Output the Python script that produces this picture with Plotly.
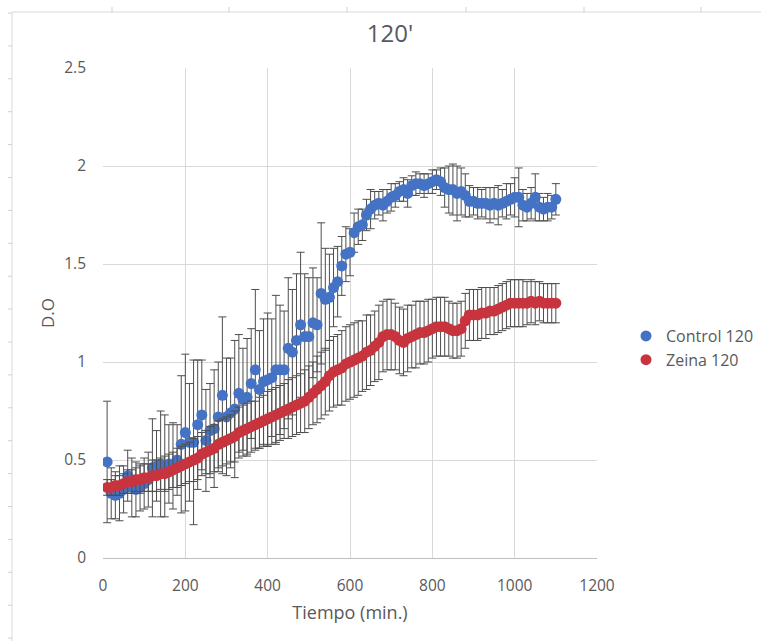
import plotly.graph_objects as go

# ---------------- data ----------------
tiempo = list(range(10, 1110, 10))

control_120 = [
    0.49, 0.33, 0.32, 0.33, 0.35, 0.42, 0.36, 0.35, 0.36, 0.38,
    0.40, 0.46, 0.47, 0.48, 0.47, 0.48, 0.47, 0.50, 0.58, 0.64,
    0.59, 0.59, 0.68, 0.73, 0.60, 0.65, 0.66, 0.72, 0.83, 0.72,
    0.74, 0.76, 0.84, 0.81, 0.82, 0.89, 0.96, 0.86, 0.90, 0.91,
    0.92, 0.96, 0.96, 0.96, 1.07, 1.05, 1.11, 1.19, 1.13, 1.13,
    1.20, 1.19, 1.35, 1.32, 1.33, 1.38, 1.41, 1.49, 1.55, 1.56,
    1.66, 1.69, 1.70, 1.75, 1.78, 1.80, 1.81, 1.80, 1.82, 1.84,
    1.85, 1.87, 1.88, 1.86, 1.90, 1.91, 1.91, 1.90, 1.91, 1.92,
    1.93, 1.92, 1.89, 1.88, 1.88, 1.86, 1.87, 1.85, 1.82, 1.82,
    1.81, 1.81, 1.81, 1.80, 1.81, 1.80, 1.81, 1.82, 1.83, 1.84,
    1.84, 1.80, 1.79, 1.81, 1.84, 1.79, 1.78, 1.79, 1.79, 1.83,
]
control_sd = [
    0.31, 0.13, 0.12, 0.14, 0.12, 0.13, 0.15, 0.14, 0.12, 0.13,
    0.14, 0.25, 0.18, 0.27, 0.26, 0.20, 0.22, 0.18, 0.35, 0.40,
    0.30, 0.42, 0.33, 0.28, 0.26, 0.24, 0.30, 0.28, 0.40, 0.30,
    0.28, 0.35, 0.30, 0.26, 0.30, 0.28, 0.41, 0.30, 0.32, 0.34,
    0.30, 0.38, 0.33, 0.30, 0.36, 0.32, 0.34, 0.37, 0.32, 0.30,
    0.28, 0.24, 0.36, 0.26, 0.22, 0.20, 0.18, 0.15, 0.14, 0.12,
    0.10, 0.09, 0.08, 0.08, 0.10, 0.07, 0.06, 0.08, 0.06, 0.07,
    0.06, 0.05, 0.06, 0.07, 0.05, 0.06, 0.05, 0.06, 0.05, 0.06,
    0.05, 0.07, 0.10, 0.12, 0.13, 0.14, 0.12, 0.11, 0.08, 0.07,
    0.08, 0.07, 0.08, 0.09, 0.08, 0.10, 0.07, 0.09, 0.08, 0.10,
    0.15, 0.08, 0.07, 0.08, 0.12, 0.07, 0.06, 0.07, 0.06, 0.08,
]

zeina_120 = [
    0.36, 0.36, 0.37, 0.37, 0.38, 0.39, 0.39, 0.40, 0.40, 0.41,
    0.41, 0.42, 0.42, 0.43, 0.43, 0.44, 0.45, 0.46, 0.47, 0.48,
    0.49, 0.50, 0.51, 0.53, 0.54, 0.55, 0.56, 0.58, 0.59, 0.60,
    0.61, 0.62, 0.64, 0.65, 0.66, 0.67, 0.68, 0.69, 0.70, 0.71,
    0.72, 0.73, 0.74, 0.75, 0.76, 0.77, 0.78, 0.79, 0.80, 0.82,
    0.84, 0.86, 0.88, 0.90, 0.93, 0.95, 0.96, 0.97, 0.99, 1.00,
    1.01, 1.02, 1.03, 1.05, 1.06, 1.08, 1.10, 1.13, 1.14, 1.14,
    1.13, 1.11, 1.10, 1.12, 1.13, 1.14, 1.15, 1.15, 1.16, 1.17,
    1.18, 1.18, 1.18, 1.17, 1.16, 1.16, 1.17, 1.21, 1.24, 1.24,
    1.24, 1.25, 1.25, 1.26, 1.26, 1.27, 1.28, 1.29, 1.30, 1.30,
    1.30, 1.30, 1.30, 1.31, 1.30, 1.31, 1.30, 1.30, 1.30, 1.30,
]
zeina_sd = [
    0.04, 0.04, 0.05, 0.05, 0.05, 0.06, 0.06, 0.06, 0.07, 0.07,
    0.07, 0.08, 0.08, 0.08, 0.09, 0.09, 0.09, 0.10, 0.10, 0.10,
    0.10, 0.11, 0.11, 0.11, 0.11, 0.12, 0.12, 0.12, 0.12, 0.12,
    0.12, 0.13, 0.13, 0.13, 0.13, 0.13, 0.12, 0.13, 0.13, 0.14,
    0.14, 0.14, 0.14, 0.14, 0.15, 0.15, 0.15, 0.15, 0.16, 0.16,
    0.16, 0.17, 0.17, 0.17, 0.18, 0.18, 0.18, 0.19, 0.19, 0.19,
    0.19, 0.19, 0.18, 0.19, 0.18, 0.18, 0.19, 0.18, 0.18, 0.18,
    0.17, 0.17, 0.17, 0.17, 0.16, 0.17, 0.16, 0.16, 0.16, 0.15,
    0.15, 0.15, 0.15, 0.14, 0.14, 0.14, 0.14, 0.14, 0.13, 0.13,
    0.13, 0.13, 0.13, 0.12, 0.12, 0.12, 0.12, 0.12, 0.12, 0.12,
    0.12, 0.12, 0.11, 0.11, 0.11, 0.10, 0.10, 0.10, 0.10, 0.10,
]

x_ticks = [0, 200, 400, 600, 800, 1000, 1200]
y_ticks = [0, 0.5, 1, 1.5, 2, 2.5]
y_tick_labels = ["0", "0.5", "1", "1.5", "2", "2.5"]

# ---------------- style ----------------
W, H = 761, 641
ML, MR, MT, MB = 103, 164, 68, 83
FONT = "Open Sans"
TXT = "#595959"
BLUE = "#4472C4"
RED = "#C8343E"
ERR = "#4D4D4D"


def px(xp):
    return (xp - ML) / (W - ML - MR)


def py(yp):
    return 1 - (yp - MT) / (H - MT - MB)


fig = go.Figure()
fig.add_trace(go.Scatter(
    x=tiempo, y=control_120, mode="markers", name="Control 120",
    marker=dict(color=BLUE, size=11, line=dict(width=0)),
    error_y=dict(type="data", array=control_sd, visible=True,
                 color=ERR, thickness=1, width=4),
))
fig.add_trace(go.Scatter(
    x=tiempo, y=zeina_120, mode="markers", name="Zeina 120",
    marker=dict(color=RED, size=11, line=dict(width=0)),
    error_y=dict(type="data", array=zeina_sd, visible=True,
                 color=ERR, thickness=1, width=4),
))

# spreadsheet frame decorations (chart area border and cell ticks)
shapes = [
    dict(type="line", xref="paper", yref="paper",
         x0=px(12), x1=px(W), y0=py(12), y1=py(12),
         line=dict(color="#D9D9D9", width=1)),
    dict(type="line", xref="paper", yref="paper",
         x0=px(12), x1=px(12), y0=py(12), y1=py(H),
         line=dict(color="#D9D9D9", width=1)),
]
for xt in [112, 229, 347, 466, 584, 701]:
    shapes.append(dict(type="line", xref="paper", yref="paper",
                       x0=px(xt), x1=px(xt), y0=py(7), y1=py(12),
                       line=dict(color="#D0D0D0", width=1)))
for k in range(20):
    yt = 13 + k * 32.9
    shapes.append(dict(type="line", xref="paper", yref="paper",
                       x0=px(8), x1=px(12), y0=py(yt), y1=py(yt),
                       line=dict(color="#D0D0D0", width=1)))

fig.update_layout(
    width=W, height=H,
    margin=dict(l=ML, r=MR, t=MT, b=MB, pad=0, autoexpand=False),
    paper_bgcolor="white", plot_bgcolor="white",
    font=dict(family=FONT, color=TXT, size=15),
    title=dict(text="120'", xref="container", yref="container",
               x=390 / W, xanchor="center",
               y=1 - 34 / H, yanchor="middle",
               font=dict(family=FONT, size=24, color=TXT)),
    xaxis=dict(range=[0, 1200], tickvals=x_ticks, ticktext=[str(v) for v in x_ticks],
               showgrid=True, gridcolor="#D9D9D9", gridwidth=1,
               showline=True, linecolor="#BFBFBF", linewidth=1,
               zeroline=False, ticks="", ticklabelstandoff=13,
               tickfont=dict(size=15.5, color=TXT),
               title=dict(text="Tiempo (min.)", standoff=11,
                          font=dict(size=18, color=TXT))),
    yaxis=dict(range=[0, 2.5], tickvals=y_ticks, ticktext=y_tick_labels,
               showgrid=True, gridcolor="#D9D9D9", gridwidth=1,
               showline=False, zeroline=False, ticks="", ticklabelstandoff=16,
               tickfont=dict(size=15.5, color=TXT),
               title=dict(text="D.O", standoff=5,
                          font=dict(size=17, color=TXT))),
    legend=dict(x=px(626), xanchor="left", y=py(348), yanchor="middle",
                font=dict(family=FONT, size=16, color=TXT),
                itemwidth=30, tracegroupgap=0, bgcolor="rgba(0,0,0,0)"),
    shapes=shapes,
)

fig.write_html("out.html", config={"displayModeBar": False},
               post_script="document.body.style.margin='0';")
